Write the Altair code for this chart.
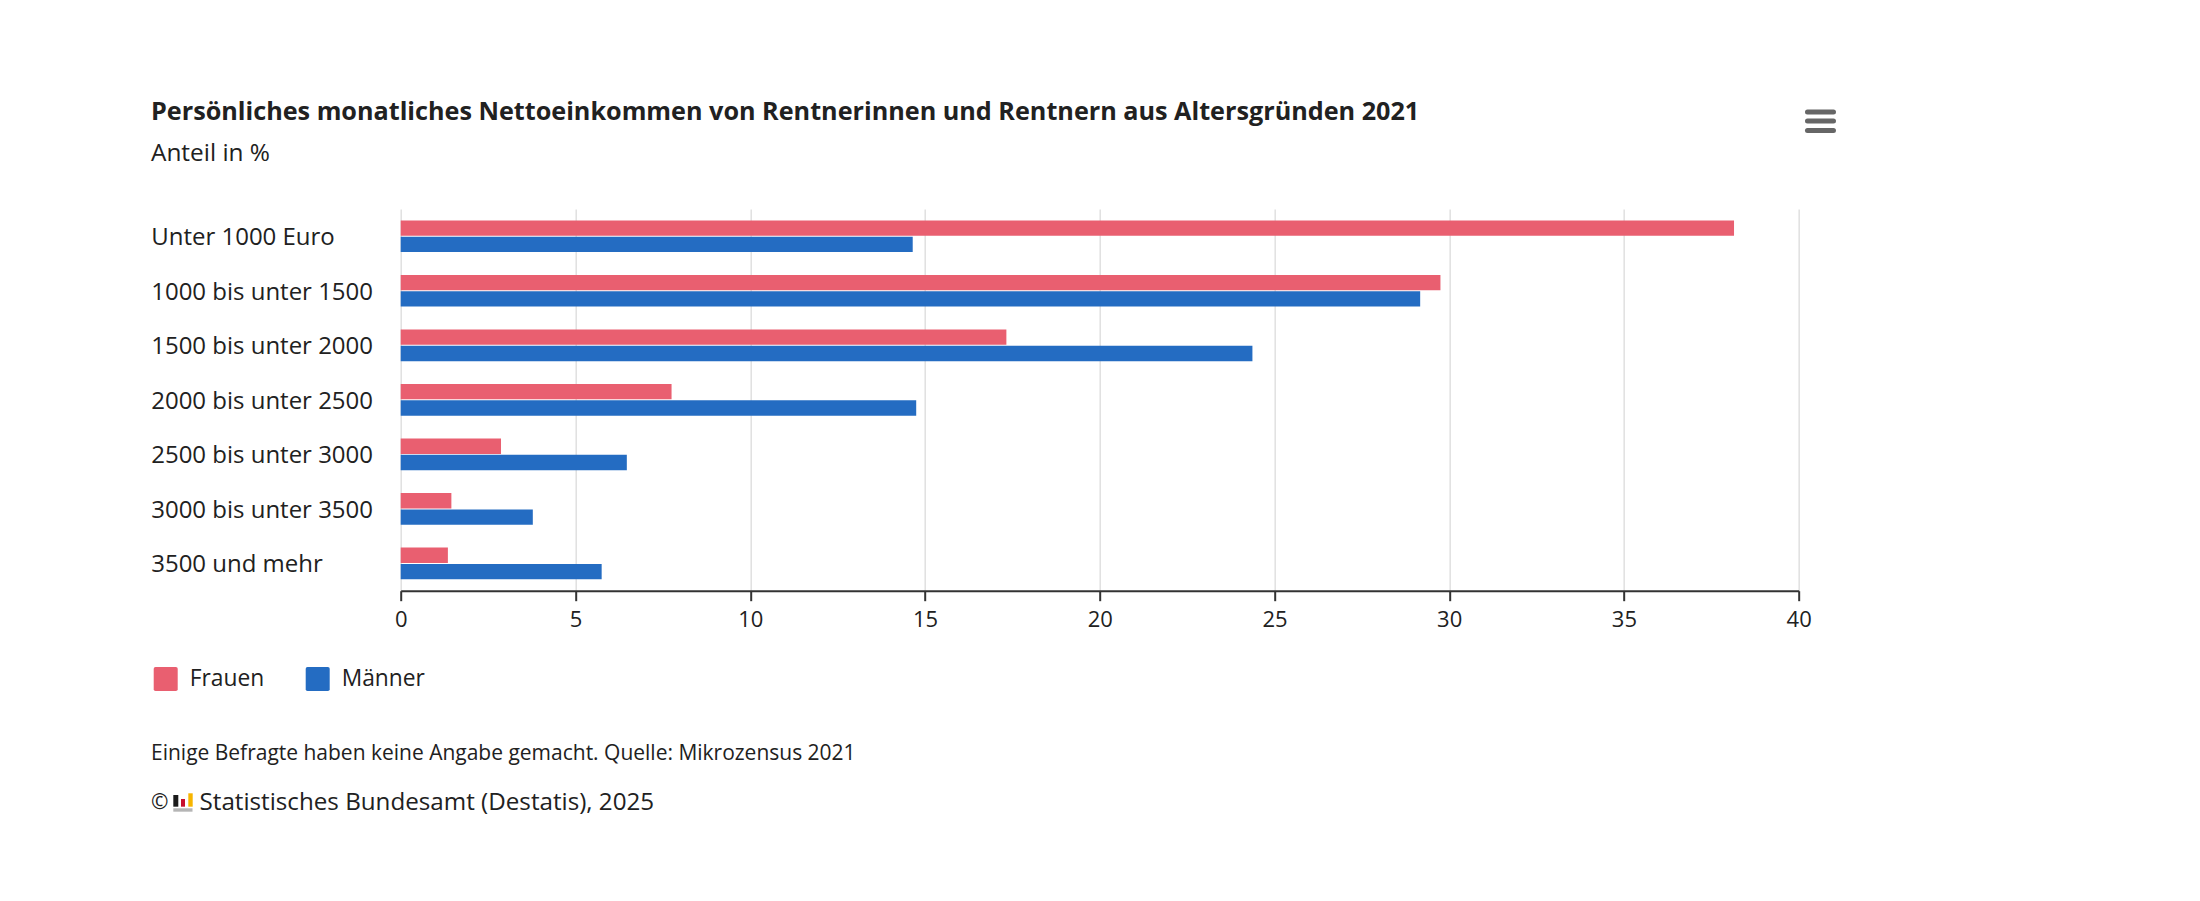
import altair as alt
import pandas as pd

categories = ["Unter 1000 Euro", "1000 bis unter 1500", "1500 bis unter 2000", "2000 bis unter 2500",
              "2500 bis unter 3000", "3000 bis unter 3500", "3500 und mehr"]
frauen = [38.15, 29.75, 17.33, 7.75, 2.87, 1.45, 1.35]
maenner = [14.65, 29.17, 24.37, 14.75, 6.47, 3.78, 5.75]
series = ["Frauen", "Männer"]
colors = ["#E95F70", "#246CC2"]
x_ticks = [0, 5, 10, 15, 20, 25, 30, 35, 40]
title_text = "Persönliches monatliches Nettoeinkommen von Rentnerinnen und Rentnern aus Altersgründen 2021"
subtitle_text = "Anteil in %"
note_text = "Einige Befragte haben keine Angabe gemacht. Quelle: Mikrozensus 2021"
copy_text = "Statistisches Bundesamt (Destatis), 2025"

FONT = "Open Sans"
INK = "#212121"
L = 392.7; T = 201; W = 1398; H = 381.7

rows = []
for i, c in enumerate(categories):
    rows.append({"cat": c, "series": "Frauen", "value": frauen[i]})
    rows.append({"cat": c, "series": "Männer", "value": maenner[i]})
df = pd.DataFrame(rows)

round_sq = "M -0.85,-1 H 0.85 Q 1,-1 1,-0.85 V 0.85 Q 1,1 0.85,1 H -0.85 Q -1,1 -1,0.85 V -0.85 Q -1,-1 -0.85,-1 Z"

bars = alt.Chart(df).mark_bar().encode(
    x=alt.X("value:Q", scale=alt.Scale(domain=[0, 40], nice=False),
            axis=alt.Axis(values=x_ticks, title=None, format="d", grid=True, gridColor="#e0e0e0", gridWidth=1.5,
                          domainColor="#333333", domainWidth=2, tickColor="#333333", tickWidth=2, tickSize=10,
                          labelFont=FONT, labelFontSize=22, labelColor=INK, labelPadding=9, labelFlush=False)),
    y=alt.Y("cat:N", sort=categories,
            scale=alt.Scale(paddingInner=0.42, paddingOuter=0.21),
            axis=alt.Axis(title=None, domain=False, ticks=False, labelAlign="left", labelPadding=250,
                          labelFont=FONT, labelFontSize=24, labelColor=INK, labelOffset=2, labelLimit=300)),
    yOffset=alt.YOffset("series:N", sort=series, scale=alt.Scale(paddingInner=0.06)),
    color=alt.Color("series:N", sort=series, scale=alt.Scale(domain=series, range=colors),
                    legend=alt.Legend(title=None, orient="none", legendX=-247, legendY=458, direction="horizontal",
                                      symbolType=round_sq, symbolSize=576, symbolStrokeWidth=0, symbolOpacity=1,
                                      labelFont=FONT, labelFontSize=22.8, labelColor=INK, labelOffset=12,
                                      columnPadding=41, columns=2)),
)


def text(s, x, y, size, weight="normal"):
    return alt.Chart(pd.DataFrame({"t": [s]})).mark_text(
        align="left", baseline="middle", font=FONT, fontSize=size, fontWeight=weight, color=INK
    ).encode(x=alt.value(x - L - 8), y=alt.value(y - T - 8), text="t:N")


def rule(x1, x2, y1, y2, color, width, cap="butt"):
    return alt.Chart(pd.DataFrame({"a": [0]})).mark_rule(color=color, strokeWidth=width, strokeCap=cap).encode(
        x=alt.value(x1 - L - 8), x2=alt.value(x2 - L - 8), y=alt.value(y1 - T - 8), y2=alt.value(y2 - T - 8))


layers = [
    bars,
    text(title_text, 151, 112, 25.2, "bold"),
    text(subtitle_text, 151, 154, 24.4),
    text(note_text, 151, 754, 21),
    text("©", 151, 803, 21),
    text(copy_text, 199.5, 803, 24.2),
    rule(175.8, 175.8, 795, 806.7, "#1a1a1a", 5),
    rule(183, 183, 799, 806.7, "#c8102e", 4),
    rule(190.5, 190.5, 793.3, 806.7, "#f7b500", 4.4),
    rule(173.3, 192.5, 810, 810, "#b5b5b5", 3.4),
    rule(1807.5, 1833.5, 112, 112, "#666666", 5, "round"),
    rule(1807.5, 1833.5, 121, 121, "#666666", 5, "round"),
    rule(1807.5, 1833.5, 130.5, 130.5, "#666666", 5, "round"),
]

chart = alt.layer(*layers).properties(
    width=W, height=H,
    autosize=alt.AutoSizeParams(type="none"),
    padding={"left": L, "top": T, "right": 100, "bottom": 270},
    background="white",
).configure_view(stroke=None)

chart.save("out.html", embed_options={"renderer": "svg", "actions": False})
